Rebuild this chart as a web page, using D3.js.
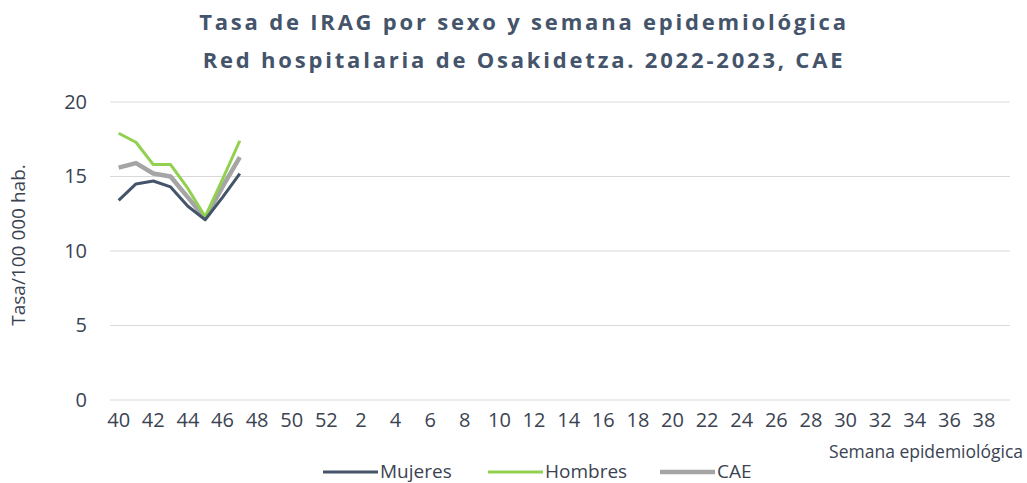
<!DOCTYPE html>
<html>
<head>
<meta charset="utf-8">
<title>Tasa de IRAG por sexo</title>
<script src="https://cdn.jsdelivr.net/npm/d3@7"></script>
<style>
  body { margin: 0; background: #fff; }
  svg text { font-family: "Open Sans", "Noto Sans", sans-serif; }
</style>
</head>
<body>
<svg id="chart" width="1027" height="483"></svg>
<script>
// weeks 40..52 then 1..39
var weeks = d3.range(40, 53).concat(d3.range(1, 40));
var tickWeeks = weeks.filter(function (w) { return w % 2 === 0; });
var yTicks = [0, 5, 10, 15, 20];

var mujeres = [13.4, 14.5, 14.7, 14.3, 13.0, 12.1, 13.6, 15.2];
var hombres = [17.9, 17.3, 15.8, 15.8, 14.2, 12.3, 14.8, 17.4];
var cae     = [15.6, 15.9, 15.2, 15.0, 13.6, 12.2, 14.3, 16.3];

var seriesNames = ['Mujeres', 'Hombres', 'CAE'];
var seriesColors = ['#44546a', '#92d050', '#a5a5a5'];
var seriesWidths = [3, 3, 4.5];
var seriesData = [mujeres, hombres, cae];

var svg = d3.select('#chart');
var plotLeft = 110, plotRight = 1010, plotTop = 102, plotBottom = 400;

var x = d3.scaleBand().domain(weeks).range([plotLeft, plotRight]);
var y = d3.scaleLinear().domain([0, 20]).range([plotBottom, plotTop]);

// title
var title = svg.append('g').attr('fill', '#44546a')
  .attr('font-weight', 'bold').attr('font-size', 22)
  .attr('letter-spacing', 2.8).attr('text-anchor', 'middle');
title.append('text').attr('x', 524).attr('y', 30).text('Tasa de IRAG por sexo y semana epidemiológica');
title.append('text').attr('x', 524).attr('y', 68).text('Red hospitalaria de Osakidetza. 2022-2023, CAE');

// gridlines
svg.append('g').selectAll('line').data(yTicks).join('line')
  .attr('x1', plotLeft).attr('x2', plotRight)
  .attr('y1', function (d) { return y(d); }).attr('y2', function (d) { return y(d); })
  .attr('stroke', '#d9d9d9').attr('stroke-width', 1);

// y axis
var yAxis = svg.append('g').attr('transform', 'translate(' + plotLeft + ',0)')
  .call(d3.axisLeft(y).tickValues(yTicks).tickSize(0).tickPadding(23));
yAxis.select('.domain').remove();
yAxis.selectAll('text').attr('font-size', 20).attr('fill', '#3b4352')
  .attr('font-family', '"Open Sans", sans-serif');

// x axis
var xAxis = svg.append('g').attr('transform', 'translate(0,' + plotBottom + ')')
  .call(d3.axisBottom(x).tickValues(tickWeeks).tickSize(0).tickPadding(13));
xAxis.select('.domain').remove();
xAxis.selectAll('text').attr('font-size', 20).attr('fill', '#3b4352')
  .attr('font-family', '"Open Sans", sans-serif');

// axis titles
svg.append('text').attr('transform', 'translate(25,' + 245 + ') rotate(-90)')
  .attr('text-anchor', 'middle').attr('font-size', 19).attr('fill', '#3b4352')
  .text('Tasa/100 000 hab.');
svg.append('text').attr('x', 1023).attr('y', 458)
  .attr('text-anchor', 'end').attr('font-size', 17.5).attr('fill', '#3b4352')
  .text('Semana epidemiológica');

// lines
var line = d3.line()
  .x(function (d, i) { return x(weeks[i]) + x.bandwidth() / 2; })
  .y(function (d) { return y(d); });

[2, 1, 0].forEach(function (k) {
  svg.append('path').datum(seriesData[k])
    .attr('d', line).attr('fill', 'none')
    .attr('stroke', seriesColors[k]).attr('stroke-width', seriesWidths[k])
    .attr('stroke-linejoin', 'round');
});

// legend
var legendX = [323, 488, 660];
var legend = svg.append('g').selectAll('g').data(seriesNames).join('g')
  .attr('transform', function (d, i) { return 'translate(' + legendX[i] + ',472)'; });
legend.append('line').attr('x1', 0).attr('x2', 55).attr('y1', 0).attr('y2', 0)
  .attr('stroke', function (d, i) { return seriesColors[i]; })
  .attr('stroke-width', function (d, i) { return seriesWidths[i]; });
legend.append('text').attr('x', 57).attr('y', 6).attr('font-size', 19)
  .attr('fill', '#3b4352').text(function (d) { return d; });
</script>
</body>
</html>
